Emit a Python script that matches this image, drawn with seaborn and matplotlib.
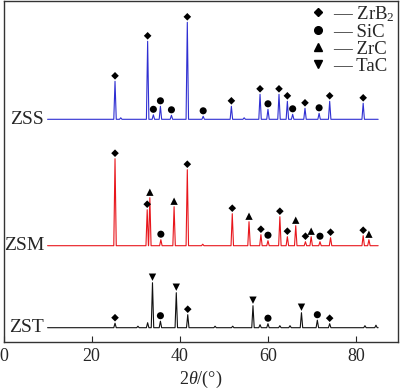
import numpy as np
import pandas as pd
import matplotlib.pyplot as plt
import seaborn as sns
from matplotlib.lines import Line2D

# peak positions (2theta, deg), peak heights (a.u.) and phase of each peak
zss_pos = [25.3, 26.6, 32.7, 34.0, 35.6, 38.1, 41.7, 45.3, 51.7, 54.6, 58.2, 60.0, 62.5, 64.4, 65.6, 68.4, 71.6, 74.0, 81.6]
zss_h = [38, 1.5, 78, 4.5, 13, 4, 97, 3, 13, 1.5, 25, 10, 25, 18, 5, 11, 6, 18, 16]
zss_phase = ['ZrB2', '', 'ZrB2', 'SiC', 'SiC', 'SiC', 'ZrB2', 'SiC', 'ZrB2', '', 'ZrB2', 'SiC', 'ZrB2', 'ZrB2', 'SiC', 'ZrB2', 'SiC', 'ZrB2', 'ZrB2']

zsm_pos = [25.3, 32.6, 33.2, 35.7, 38.7, 41.7, 45.2, 51.9, 55.7, 58.4, 60.0, 62.7, 64.4, 66.3, 68.5, 69.8, 71.8, 74.2, 81.6, 82.9]
zsm_h = [87, 36, 48, 6, 39, 76, 1.5, 32, 24, 11, 5, 29, 9, 20, 4, 9, 4, 8, 10, 6]
zsm_phase = ['ZrB2', 'ZrB2', 'ZrC', 'SiC', 'ZrC', 'ZrB2', '', 'ZrB2', 'ZrC', 'ZrB2', 'SiC', 'ZrB2', 'ZrB2', 'ZrC', 'ZrB2', 'ZrC', 'SiC', 'ZrB2', 'ZrB2', 'ZrC']

zst_pos = [25.3, 30.5, 32.7, 33.8, 35.6, 39.2, 41.8, 48.0, 52.0, 56.6, 58.2, 60.0, 62.7, 65.0, 67.6, 71.2, 74.0, 82.0, 84.5]
zst_h = [4.5, 1.5, 5, 45, 6.5, 35, 13, 1.5, 1.5, 22, 3, 4, 2, 2, 15, 7.5, 4, 2, 2.5]
zst_phase = ['ZrB2', '', '', 'TaC', 'SiC', 'TaC', 'ZrB2', '', '', 'TaC', '', 'SiC', '', '', 'TaC', 'SiC', 'ZrB2', '', '']

samples = ['ZSS', 'ZSM', 'ZST']
baselines = [222.7, 96.3, 14.3]
colors = ['#2f2fd2', '#e8161c', '#111111']

phase_names = ['ZrB2', 'SiC', 'ZrC', 'TaC']
phase_labels = ['ZrB$_2$', 'SiC', 'ZrC', 'TaC']
phase_markers = {'ZrB2': 'D', 'SiC': 'o', 'ZrC': '^', 'TaC': 'v'}
phase_sizes = {'ZrB2': 15, 'SiC': 26, 'ZrC': 28, 'TaC': 28}

sns.set_style('ticks')
plt.rcParams['font.family'] = ['Liberation Serif', 'DejaVu Serif']
plt.rcParams['mathtext.fontset'] = 'custom'
plt.rcParams['mathtext.rm'] = 'Liberation Serif'
plt.rcParams['mathtext.it'] = 'Liberation Serif:italic'

fig = plt.figure(figsize=(4.0, 3.92), dpi=100)
ax = fig.add_axes([3.5 / 400, 1 - 342 / 392, (398 - 3.5) / 400, 341 / 392])

half_w = 0.28
patterns = [(zss_pos, zss_h, zss_phase), (zsm_pos, zsm_h, zsm_phase), (zst_pos, zst_h, zst_phase)]
for (pos, h, ph), name, base, col in zip(patterns, samples, baselines, colors):
    xs, ys = [10.0], [base]
    for p, hh in zip(pos, h):
        xs += [p - half_w, p, p + half_w]
        ys += [base, base + hh, base]
    xs.append(85.0)
    ys.append(base)
    df = pd.DataFrame({'two_theta': xs, 'intensity': ys})
    sns.lineplot(data=df, x='two_theta', y='intensity', estimator=None, sort=False,
                 color=col, lw=0.8, ax=ax)
    # phase markers above the peaks
    for p, hh, phase in zip(pos, h, ph):
        if phase:
            ax.scatter(p, base + hh + 5.5, marker=phase_markers[phase], s=phase_sizes[phase],
                       color='black', edgecolor='none', zorder=3)
    ax.text(9.2, base, name, ha='right', va='center', fontsize=14)

handles = [Line2D([], [], ls='none', marker=phase_markers[n], color='black', markersize=4 if n == 'ZrB2' else 5.5)
           for n in phase_names]
ax.legend(handles, ['\u2014 ' + l for l in phase_labels], loc='upper right', frameon=False,
          fontsize=13.5, handlelength=0.5, handletextpad=0.55, labelspacing=0.0,
          borderaxespad=0.05, borderpad=0.1)

ax.set_xlim(0, 89.5)
ax.set_ylim(0, 341)
ax.set_xticks([0, 20, 40, 60, 80])
ax.set_yticks([])
ax.tick_params(axis='x', direction='in', length=4, width=0.8, labelsize=13, pad=4)
for s in ax.spines.values():
    s.set_linewidth(1.0)
    s.set_color('#333333')
ax.set_xlabel(r'$\mathit{2\theta}$/(°)', fontsize=13, labelpad=3)
ax.set_ylabel('')

fig.savefig('out.png', dpi=100)
